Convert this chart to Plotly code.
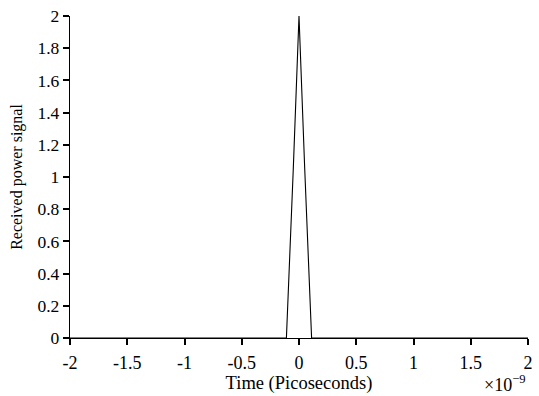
import plotly.graph_objects as go

# time in units of 1e-9 (as shown by the axis exponent label)
time_vals = [-2.0, -0.11, -0.05, 0.0, 0.05, 0.11, 2.0]
power_vals = [0.0, 0.0, 1.05, 2.0, 1.05, 0.0, 0.0]

x_ticks = [-2, -1.5, -1, -0.5, 0, 0.5, 1, 1.5, 2]
x_tick_labels = ["-2", "-1.5", "-1", "-0.5", "0", "0.5", "1", "1.5", "2"]
y_ticks = [0, 0.2, 0.4, 0.6, 0.8, 1, 1.2, 1.4, 1.6, 1.8, 2]
y_tick_labels = ["0", "0.2", "0.4", "0.6", "0.8", "1", "1.2", "1.4", "1.6", "1.8", "2"]

font_family = "Liberation Serif, Times New Roman, serif"

fig = go.Figure()
fig.add_trace(go.Scatter(
    x=time_vals, y=power_vals, mode="lines",
    line=dict(color="black", width=1.1), showlegend=False,
))

fig.update_layout(
    width=539, height=396,
    margin=dict(l=70, r=6, t=10, b=58),
    paper_bgcolor="white", plot_bgcolor="white",
    font=dict(family=font_family, size=17, color="black"),
    xaxis=dict(
        range=[-2, 2], tickvals=x_ticks, ticktext=x_tick_labels,
        showgrid=False, zeroline=False, showline=True, linecolor="black", linewidth=1.3,
        ticks="outside", ticklen=6, tickwidth=1.5, tickcolor="black",
        ticklabelstandoff=2, tickfont=dict(size=18),
        title=dict(text="Time (Picoseconds)", standoff=4, font=dict(size=18.5)),
    ),
    yaxis=dict(
        range=[0, 2], tickvals=y_ticks, ticktext=y_tick_labels,
        showgrid=False, zeroline=False, showline=True, linecolor="black", linewidth=1.3,
        ticks="outside", ticklen=6, tickwidth=1.5, tickcolor="black",
        tickfont=dict(size=17.5),
        title=dict(text="Received power signal", standoff=10, font=dict(size=16)),
    ),
    annotations=[dict(
        text="×10<sup>−9</sup>", xref="paper", yref="paper",
        x=1.0, y=-0.1, xanchor="right", yanchor="top",
        showarrow=False, font=dict(size=18),
    )],
)

fig.write_html("out.html")
